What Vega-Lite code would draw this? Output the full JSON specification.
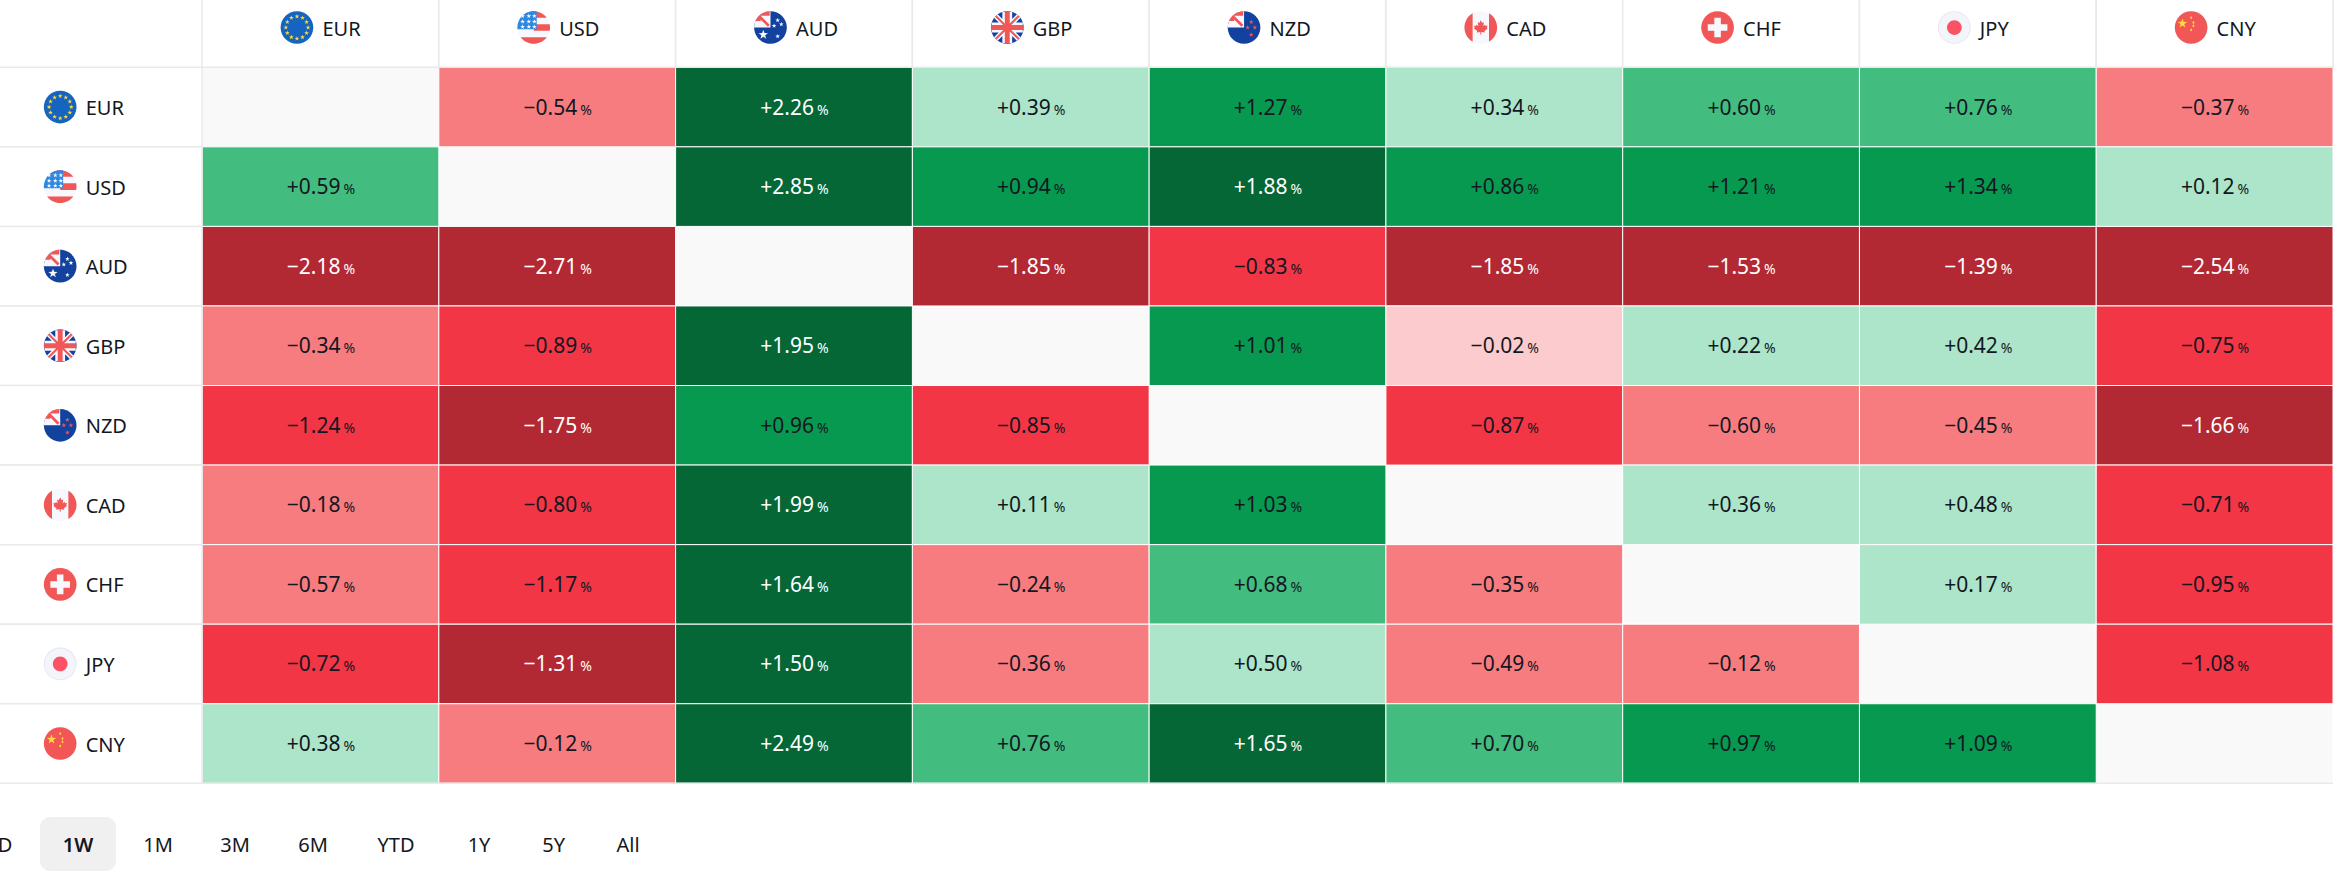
{
"$schema":"https://vega.github.io/schema/vega-lite/v6.json",
"width":2341,"height":875,"padding":0,"autosize":{"type":"none"},"background":"#ffffff",
"config":{"view":{"stroke":null},"text":{"font":"Noto Sans"}},
"datasets":{
"cells":[
{"row":"EUR","col":"EUR","value":null},{"row":"EUR","col":"USD","value":-0.54},{"row":"EUR","col":"AUD","value":2.26},{"row":"EUR","col":"GBP","value":0.39},{"row":"EUR","col":"NZD","value":1.27},{"row":"EUR","col":"CAD","value":0.34},{"row":"EUR","col":"CHF","value":0.60},{"row":"EUR","col":"JPY","value":0.76},{"row":"EUR","col":"CNY","value":-0.37},
{"row":"USD","col":"EUR","value":0.59},{"row":"USD","col":"USD","value":null},{"row":"USD","col":"AUD","value":2.85},{"row":"USD","col":"GBP","value":0.94},{"row":"USD","col":"NZD","value":1.88},{"row":"USD","col":"CAD","value":0.86},{"row":"USD","col":"CHF","value":1.21},{"row":"USD","col":"JPY","value":1.34},{"row":"USD","col":"CNY","value":0.12},
{"row":"AUD","col":"EUR","value":-2.18},{"row":"AUD","col":"USD","value":-2.71},{"row":"AUD","col":"AUD","value":null},{"row":"AUD","col":"GBP","value":-1.85},{"row":"AUD","col":"NZD","value":-0.83},{"row":"AUD","col":"CAD","value":-1.85},{"row":"AUD","col":"CHF","value":-1.53},{"row":"AUD","col":"JPY","value":-1.39},{"row":"AUD","col":"CNY","value":-2.54},
{"row":"GBP","col":"EUR","value":-0.34},{"row":"GBP","col":"USD","value":-0.89},{"row":"GBP","col":"AUD","value":1.95},{"row":"GBP","col":"GBP","value":null},{"row":"GBP","col":"NZD","value":1.01},{"row":"GBP","col":"CAD","value":-0.02},{"row":"GBP","col":"CHF","value":0.22},{"row":"GBP","col":"JPY","value":0.42},{"row":"GBP","col":"CNY","value":-0.75},
{"row":"NZD","col":"EUR","value":-1.24},{"row":"NZD","col":"USD","value":-1.75},{"row":"NZD","col":"AUD","value":0.96},{"row":"NZD","col":"GBP","value":-0.85},{"row":"NZD","col":"NZD","value":null},{"row":"NZD","col":"CAD","value":-0.87},{"row":"NZD","col":"CHF","value":-0.60},{"row":"NZD","col":"JPY","value":-0.45},{"row":"NZD","col":"CNY","value":-1.66},
{"row":"CAD","col":"EUR","value":-0.18},{"row":"CAD","col":"USD","value":-0.80},{"row":"CAD","col":"AUD","value":1.99},{"row":"CAD","col":"GBP","value":0.11},{"row":"CAD","col":"NZD","value":1.03},{"row":"CAD","col":"CAD","value":null},{"row":"CAD","col":"CHF","value":0.36},{"row":"CAD","col":"JPY","value":0.48},{"row":"CAD","col":"CNY","value":-0.71},
{"row":"CHF","col":"EUR","value":-0.57},{"row":"CHF","col":"USD","value":-1.17},{"row":"CHF","col":"AUD","value":1.64},{"row":"CHF","col":"GBP","value":-0.24},{"row":"CHF","col":"NZD","value":0.68},{"row":"CHF","col":"CAD","value":-0.35},{"row":"CHF","col":"CHF","value":null},{"row":"CHF","col":"JPY","value":0.17},{"row":"CHF","col":"CNY","value":-0.95},
{"row":"JPY","col":"EUR","value":-0.72},{"row":"JPY","col":"USD","value":-1.31},{"row":"JPY","col":"AUD","value":1.50},{"row":"JPY","col":"GBP","value":-0.36},{"row":"JPY","col":"NZD","value":0.50},{"row":"JPY","col":"CAD","value":-0.49},{"row":"JPY","col":"CHF","value":-0.12},{"row":"JPY","col":"JPY","value":null},{"row":"JPY","col":"CNY","value":-1.08},
{"row":"CNY","col":"EUR","value":0.38},{"row":"CNY","col":"USD","value":-0.12},{"row":"CNY","col":"AUD","value":2.49},{"row":"CNY","col":"GBP","value":0.76},{"row":"CNY","col":"NZD","value":1.65},{"row":"CNY","col":"CAD","value":0.70},{"row":"CNY","col":"CHF","value":0.97},{"row":"CNY","col":"JPY","value":1.09},{"row":"CNY","col":"CNY","value":null}
],
"heads":[
{"row":"hdr","col":"EUR","code":"EUR","parts":["eur_base","eur_stars"]},
{"row":"hdr","col":"USD","code":"USD","parts":["us_base","us_red","us_canton","us_stars"]},
{"row":"hdr","col":"AUD","code":"AUD","parts":["navy_base","uj_white","uj_red","au_stars"]},
{"row":"hdr","col":"GBP","code":"GBP","parts":["navy_base","gb_white","gb_red"]},
{"row":"hdr","col":"NZD","code":"NZD","parts":["navy_base","uj_white","uj_red","nz_stars"]},
{"row":"hdr","col":"CAD","code":"CAD","parts":["pale_base","ca_red"]},
{"row":"hdr","col":"CHF","code":"CHF","parts":["red_base","ch_cross"]},
{"row":"hdr","col":"JPY","code":"JPY","parts":["jp_edge","jp_inner","jp_dot"]},
{"row":"hdr","col":"CNY","code":"CNY","parts":["red_base","cn_stars"]},
{"row":"EUR","col":"hdr","code":"EUR","parts":["eur_base","eur_stars"]},
{"row":"USD","col":"hdr","code":"USD","parts":["us_base","us_red","us_canton","us_stars"]},
{"row":"AUD","col":"hdr","code":"AUD","parts":["navy_base","uj_white","uj_red","au_stars"]},
{"row":"GBP","col":"hdr","code":"GBP","parts":["navy_base","gb_white","gb_red"]},
{"row":"NZD","col":"hdr","code":"NZD","parts":["navy_base","uj_white","uj_red","nz_stars"]},
{"row":"CAD","col":"hdr","code":"CAD","parts":["pale_base","ca_red"]},
{"row":"CHF","col":"hdr","code":"CHF","parts":["red_base","ch_cross"]},
{"row":"JPY","col":"hdr","code":"JPY","parts":["jp_edge","jp_inner","jp_dot"]},
{"row":"CNY","col":"hdr","code":"CNY","parts":["red_base","cn_stars"]}
],
"tabs":[
{"group":"tabs","label":"D","order":0,"selected":false},
{"group":"tabs","label":"1W","order":1,"selected":true},
{"group":"tabs","label":"1M","order":2,"selected":false},
{"group":"tabs","label":"3M","order":3,"selected":false},
{"group":"tabs","label":"6M","order":4,"selected":false},
{"group":"tabs","label":"YTD","order":5,"selected":false},
{"group":"tabs","label":"1Y","order":6,"selected":false},
{"group":"tabs","label":"5Y","order":7,"selected":false},
{"group":"tabs","label":"All","order":8,"selected":false}
]
},
"layer":[
{
"layer":[
{"data":{"name":"cells"},"mark":{"type":"rect","fill":"#f9f9f9","stroke":"#ffffff","strokeWidth":1},
"encoding":{"x":{"field":"col","type":"nominal","axis":null,"sort":null,"scale":{"type":"band","domain":["hdr","EUR","USD","AUD","GBP","NZD","CAD","CHF","JPY","CNY"],"range":[-34.7,2333],"paddingInner":0,"paddingOuter":0}},
"y":{"field":"row","type":"nominal","axis":null,"sort":null,"scale":{"type":"band","domain":["hdr","EUR","USD","AUD","GBP","NZD","CAD","CHF","JPY","CNY"],"range":[-12.26,783.3],"paddingInner":0,"paddingOuter":0}}}},
{"data":{"name":"cells"},"transform":[{"filter":"datum.value !== null"}],"mark":{"type":"rect","stroke":"#ffffff","strokeWidth":1},
"encoding":{"x":{"field":"col","type":"nominal"},"y":{"field":"row","type":"nominal"},
"color":{"field":"value","type":"quantitative","legend":null,"scale":{"type":"threshold","domain":[-1.3,-0.65,-0.1,0,0.55,0.8,1.4],"range":["#b22833","#f23645","#f77c80","#fccbcd","#ace5c9","#42bd7f","#089950","#056636"]}}}},
{"data":{"name":"heads"},"mark":{"type":"rect","fill":"#ffffff","stroke":"#e9e9ea","strokeWidth":1.5},
"encoding":{"x":{"field":"col","type":"nominal"},"y":{"field":"row","type":"nominal"}}},
{"data":{"name":"cells"},"transform":[{"filter":"datum.row === 'CNY'"}],"mark":{"type":"tick","orient":"horizontal","color":"#e9e9ea","opacity":1,"size":237,"thickness":1.5},
"encoding":{"x":{"field":"col","type":"nominal"},"y":{"field":"row","type":"nominal","bandPosition":1}}},
{"data":{"name":"cells"},"transform":[{"filter":"datum.value !== null"}],"mark":{"type":"text","align":"right","baseline":"alphabetic","dx":20,"dy":7.5,"fontSize":21},
"encoding":{"x":{"field":"col","type":"nominal"},"y":{"field":"row","type":"nominal"},"text":{"field":"value","type":"quantitative","format":"+.2f"},
"color":{"field":"value","type":"quantitative","legend":null,"scale":{"type":"threshold","domain":[-1.3,1.4],"range":["#ffffff","#131722","#ffffff"]}}}},
{"data":{"name":"cells"},"transform":[{"filter":"datum.value !== null"}],"mark":{"type":"text","align":"left","baseline":"alphabetic","dx":23,"dy":7.5,"fontSize":14,"text":"%"},
"encoding":{"x":{"field":"col","type":"nominal"},"y":{"field":"row","type":"nominal"},
"color":{"field":"value","type":"quantitative","legend":null,"scale":{"type":"threshold","domain":[-1.3,1.4],"range":["#ffffff","#131722","#ffffff"]}}}},
{"data":{"name":"heads"},"mark":{"type":"text","align":"left","baseline":"alphabetic","dx":2,"dy":8,"fontSize":20,"color":"#131722"},
"encoding":{"x":{"field":"col","type":"nominal"},"y":{"field":"row","type":"nominal"},"text":{"field":"code","type":"nominal"}}},
{"data":{"name":"heads"},"transform":[{"flatten":["parts"]}],"mark":{"type":"point","filled":true,"opacity":1,"strokeWidth":0,"size":1069,"xOffset":-23.5},
"encoding":{"x":{"field":"col","type":"nominal"},"y":{"field":"row","type":"nominal"},
"shape":{"field":"parts","type":"nominal","legend":null,"scale":{"domain":["eur_base","eur_stars","us_base","us_red","us_canton","us_stars","navy_base","uj_white","uj_red","au_stars","nz_stars","gb_white","gb_red","pale_base","ca_red","red_base","ch_cross","jp_edge","jp_inner","jp_dot","cn_stars"],
"range":[
"M-1 0A1 1 0 1 1 1 0A1 1 0 1 1 -1 0Z",
"M0 -.83l.035 .101 .108 .003 -.086 .065 .031 .102 -.088 -.061 -.088 .061 .031 -.102 -.086 -.065 .108 -.003zM.34 -.739l.035 .101 .108 .003 -.086 .065 .031 .102 -.088 -.061 -.088 .061 .031 -.102 -.086 -.065 .108 -.003zM.589 -.49l.035 .101 .108 .003 -.086 .065 .031 .102 -.088 -.061 -.088 .061 .031 -.102 -.086 -.065 .108 -.003zM.68 -.15l.035 .101 .108 .003 -.086 .065 .031 .102 -.088 -.061 -.088 .061 .031 -.102 -.086 -.065 .108 -.003zM.589 .19l.035 .101 .108 .003 -.086 .065 .031 .102 -.088 -.061 -.088 .061 .031 -.102 -.086 -.065 .108 -.003zM.34 .439l.035 .101 .108 .003 -.086 .065 .031 .102 -.088 -.061 -.088 .061 .031 -.102 -.086 -.065 .108 -.003zM0 .53l.035 .101 .108 .003 -.086 .065 .031 .102 -.088 -.061 -.088 .061 .031 -.102 -.086 -.065 .108 -.003zM-.34 .439l.035 .101 .108 .003 -.086 .065 .031 .102 -.088 -.061 -.088 .061 .031 -.102 -.086 -.065 .108 -.003zM-.589 .19l.035 .101 .108 .003 -.086 .065 .031 .102 -.088 -.061 -.088 .061 .031 -.102 -.086 -.065 .108 -.003zM-.68 -.15l.035 .101 .108 .003 -.086 .065 .031 .102 -.088 -.061 -.088 .061 .031 -.102 -.086 -.065 .108 -.003zM-.589 -.49l.035 .101 .108 .003 -.086 .065 .031 .102 -.088 -.061 -.088 .061 .031 -.102 -.086 -.065 .108 -.003zM-.34 -.739l.035 .101 .108 .003 -.086 .065 .031 .102 -.088 -.061 -.088 .061 .031 -.102 -.086 -.065 .108 -.003z",
"M-1 0A1 1 0 1 1 1 0A1 1 0 1 1 -1 0Z",
"M-.8 -.6A1 1 0 0 1 .8 -.6ZM0 -.2H.98A1 1 0 0 1 .98 .2H0ZM-.8 .6H.8A1 1 0 0 1 -.8 .6Z",
"M.18 -.98V.1H-.995A1 1 0 0 1 .18 -.98Z",
"M-.68 -.85l.035 .101 .108 .003 -.086 .065 .031 .102 -.088 -.061 -.088 .061 .031 -.102 -.086 -.065 .108 -.003zM-.3 -.85l.035 .101 .108 .003 -.086 .065 .031 .102 -.088 -.061 -.088 .061 .031 -.102 -.086 -.065 .108 -.003zM-.68 -.51l.035 .101 .108 .003 -.086 .065 .031 .102 -.088 -.061 -.088 .061 .031 -.102 -.086 -.065 .108 -.003zM-.3 -.51l.035 .101 .108 .003 -.086 .065 .031 .102 -.088 -.061 -.088 .061 .031 -.102 -.086 -.065 .108 -.003zM.04 -.51l.035 .101 .108 .003 -.086 .065 .031 .102 -.088 -.061 -.088 .061 .031 -.102 -.086 -.065 .108 -.003zM-.68 -.2l.035 .101 .108 .003 -.086 .065 .031 .102 -.088 -.061 -.088 .061 .031 -.102 -.086 -.065 .108 -.003zM-.3 -.2l.035 .101 .108 .003 -.086 .065 .031 .102 -.088 -.061 -.088 .061 .031 -.102 -.086 -.065 .108 -.003zM.04 -.2l.035 .101 .108 .003 -.086 .065 .031 .102 -.088 -.061 -.088 .061 .031 -.102 -.086 -.065 .108 -.003zM.04 -.85l.035 .101 .108 .003 -.086 .065 .031 .102 -.088 -.061 -.088 .061 .031 -.102 -.086 -.065 .108 -.003z",
"M-1 0A1 1 0 1 1 1 0A1 1 0 1 1 -1 0Z",
"M0 0V-1A1 1 0 0 0 -1 0Z",
"M-.85 -.53A1 1 0 0 1 -.05 -1V-.72H-.6V-.4H-.92ZM-.6 -.72L-.04 -.16L-.16 -.04L-.72 -.6Z",
"M-.44 .14l.07 .202 .216 .006 -.172 .13 .062 .204 -.176 -.122 -.176 .122 .062 -.204 -.172 -.13 .216 -.006zM.44 -.59l.035 .101 .108 .003 -.086 .065 .031 .102 -.088 -.061 -.088 .061 .031 -.102 -.086 -.065 .108 -.003zM.66 -.35l.035 .101 .108 .003 -.086 .065 .031 .102 -.088 -.061 -.088 .061 .031 -.102 -.086 -.065 .108 -.003zM.22 -.25l.035 .101 .108 .003 -.086 .065 .031 .102 -.088 -.061 -.088 .061 .031 -.102 -.086 -.065 .108 -.003zM.44 .39l.035 .101 .108 .003 -.086 .065 .031 .102 -.088 -.061 -.088 .061 .031 -.102 -.086 -.065 .108 -.003z",
"M.44 -.49l.035 .101 .108 .003 -.086 .065 .031 .102 -.088 -.061 -.088 .061 .031 -.102 -.086 -.065 .108 -.003zM.66 -.15l.035 .101 .108 .003 -.086 .065 .031 .102 -.088 -.061 -.088 .061 .031 -.102 -.086 -.065 .108 -.003zM.22 -.15l.035 .101 .108 .003 -.086 .065 .031 .102 -.088 -.061 -.088 .061 .031 -.102 -.086 -.065 .108 -.003zM.44 .29l.035 .101 .108 .003 -.086 .065 .031 .102 -.088 -.061 -.088 .061 .031 -.102 -.086 -.065 .108 -.003z",
"M-.81 -.59L-.59 -.81L.81 .59L.59 .81ZM.59 -.81L.81 -.59L-.59 .81L-.81 .59ZM-.3 -.95H.3V.95H-.3ZM-.95 -.3H.95V.3H-.95Z",
"M-.75 -.66L-.66 -.75L.75 .66L.66 .75ZM.66 -.75L.75 -.66L-.66 .75L-.75 .66ZM-.15 -.99H.15V.99H-.15ZM-.99 -.15H.99V.15H-.99Z",
"M-1 0A1 1 0 1 1 1 0A1 1 0 1 1 -1 0Z",
"M-.5 -.866V.866A1 1 0 0 1 -.5 -.866ZM.5 -.866A1 1 0 0 1 .5 .866ZM0 -.45L.09 -.28L.19 -.33L.15 -.08L.26 -.19L.3 -.1L.42 -.13L.37 .02L.42 .06L.22 .22L.25 .3L.03 .27V.42H-.03V.27L-.25 .3L-.22 .22L-.42 .06L-.37 .02L-.42 -.13L-.3 -.1L-.26 -.19L-.15 -.08L-.19 -.33L-.09 -.28Z",
"M-1 0A1 1 0 1 1 1 0A1 1 0 1 1 -1 0Z",
"M-.2 -.6H.2V-.2H.6V.2H.2V.6H-.2V.2H-.6V-.2H-.2Z",
"M-1 0A1 1 0 1 1 1 0A1 1 0 1 1 -1 0Z",
"M-.95 0A.95 .95 0 1 1 .95 0A.95 .95 0 1 1 -.95 0Z",
"M-.45 0A.45 .45 0 1 1 .45 0A.45 .45 0 1 1 -.45 0Z",
"M-.53 -.55l.07 .202 .216 .006 -.172 .13 .062 .204 -.176 -.122 -.176 .122 .062 -.204 -.172 -.13 .216 -.006zM0 -.7L.07 -.6L0 -.5L-.07 -.6ZM.14 -.4L.21 -.3L.14 -.2L.07 -.3ZM.14 -.2L.21 -.1L.14 0L.07 -.1ZM0 .05L.07 .15L0 .25L-.07 .15Z"
]}},
"fill":{"field":"parts","type":"nominal","legend":null,"scale":{"domain":["eur_base","eur_stars","us_base","us_red","us_canton","us_stars","navy_base","uj_white","uj_red","au_stars","nz_stars","gb_white","gb_red","pale_base","ca_red","red_base","ch_cross","jp_edge","jp_inner","jp_dot","cn_stars"],
"range":["#1565c0","#ffd83d","#f6f8fd","#f25757","#2e88e2","#f6f8fd","#12429e","#f6f8fd","#f25757","#f6f8fd","#f25757","#f6f8fd","#f25757","#f6f8fd","#f25757","#f25757","#f6f8fd","#e2e5f0","#f3f5fb","#fb5266","#ffd83d"]}}}}
],
"resolve":{"scale":{"color":"independent"}}
},
{
"data":{"name":"tabs"},
"layer":[
{"transform":[{"filter":"datum.selected"}],"mark":{"type":"rect","fill":"#f0f0f0","width":76,"cornerRadius":10},
"encoding":{"x":{"field":"order","type":"quantitative","axis":null,"scale":{"domain":[0,1,2,3,4,5,6,7,8],"range":[5,78,158,235,313,396,479,553.6,628],"zero":false,"nice":false}},
"y":{"field":"group","type":"nominal","axis":null,"scale":{"type":"band","domain":["tabs"],"range":[817,871],"paddingInner":0,"paddingOuter":0}}}},
{"transform":[{"filter":"!datum.selected"}],"mark":{"type":"text","align":"center","baseline":"alphabetic","dy":8,"fontSize":20,"color":"#131722"},
"encoding":{"x":{"field":"order","type":"quantitative"},"y":{"field":"group","type":"nominal"},"text":{"field":"label","type":"nominal"}}},
{"transform":[{"filter":"datum.selected"}],"mark":{"type":"text","align":"center","baseline":"alphabetic","dy":8,"fontSize":20,"fontWeight":600,"color":"#131722"},
"encoding":{"x":{"field":"order","type":"quantitative"},"y":{"field":"group","type":"nominal"},"text":{"field":"label","type":"nominal"}}}
]
}
],
"resolve":{"scale":{"x":"independent","y":"independent"}}
}
